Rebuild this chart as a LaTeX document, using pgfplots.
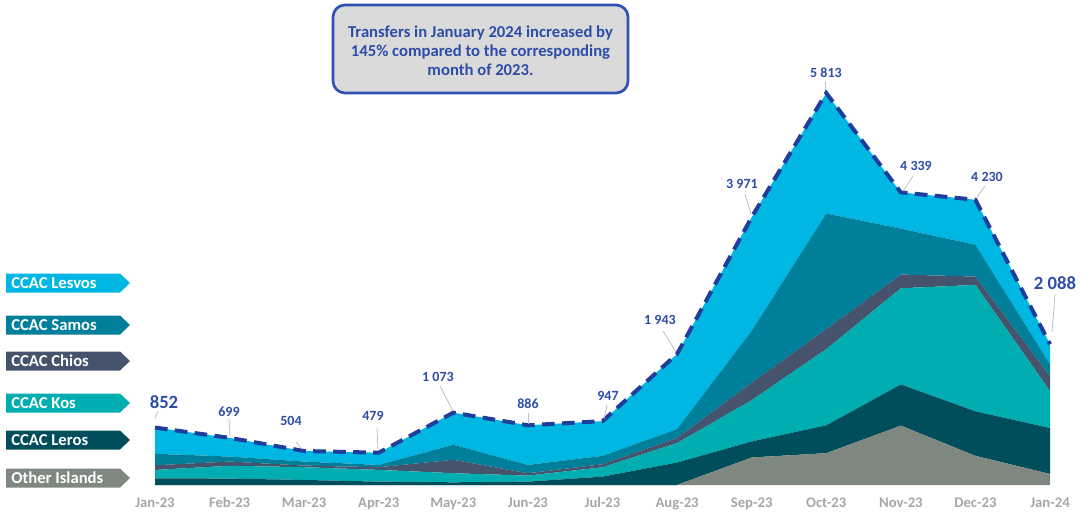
\documentclass[border=0pt]{standalone}
\usepackage{pgfplots}
\pgfplotsset{compat=1.18}
\usepackage{fontspec}
\setmainfont{Carlito}
\definecolor{lesvos}{HTML}{00B6E3}
\definecolor{samos}{HTML}{007F9A}
\definecolor{chios}{HTML}{46536D}
\definecolor{kos}{HTML}{00AEB2}
\definecolor{leros}{HTML}{004D5C}
\definecolor{other}{HTML}{7F8781}
\definecolor{lblue}{HTML}{2D4DA8}
\definecolor{dblue}{HTML}{1F3D9A}
\definecolor{tickgray}{HTML}{A6A6A6}
\definecolor{boxgray}{HTML}{DADADA}
\definecolor{boxblue}{HTML}{2E52B2}
\begin{document}
\begin{tikzpicture}[x=0.75pt,y=0.75pt]
\useasboundingbox (0,0) rectangle (1081,515);
\pgfplotsset{myaxis/.style={
  at={(116.25pt,22.5pt)}, anchor=south west,
  scale only axis, width=671.25pt, height=294pt,
  xmin=0, xmax=12, ymin=0, ymax=5813,
  clip=false,
  axis line style={draw=none},
  major tick length=0pt,
  ytick=\empty,
}}
\begin{axis}[myaxis,
  xtick={0,...,12},
  xticklabels={Jan-23,Feb-23,Mar-23,Apr-23,May-23,Jun-23,Jul-23,Aug-23,Sep-23,Oct-23,Nov-23,Dec-23,Jan-24},
  xticklabel style={anchor=base, yshift=-16.5pt, font=\fontsize{11}{12}\selectfont\bfseries, text=tickgray},
  stack plots=y,
]
% Other Islands
\addplot[fill=other, draw=none, mark=none] coordinates {(0,0) (1,0) (2,0) (3,0) (4,0) (5,0) (6,0) (7,0) (8,408) (9,472) (10,880) (11,432) (12,164)} \closedcycle;
% CCAC Leros
\addplot[fill=leros, draw=none, mark=none] coordinates {(0,100) (1,95) (2,75) (3,50) (4,40) (5,50) (6,124) (7,333) (8,238) (9,413) (10,611) (11,661) (12,681)} \closedcycle;
% CCAC Kos
\addplot[fill=kos, draw=none, mark=none] coordinates {(0,123) (1,190) (2,189) (3,174) (4,135) (5,89) (6,139) (7,288) (8,611) (9,1128) (10,1426) (11,1874) (12,547)} \closedcycle;
% CCAC Chios
\addplot[fill=chios, draw=none, mark=none] coordinates {(0,70) (1,63) (2,24) (3,40) (4,199) (5,35) (6,45) (7,75) (8,259) (9,298) (10,204) (11,124) (12,223)} \closedcycle;
% CCAC Samos
\addplot[fill=samos, draw=none, mark=none] coordinates {(0,170) (1,74) (2,60) (3,34) (4,223) (5,124) (6,124) (7,134) (8,770) (9,1715) (10,681) (11,472) (12,174)} \closedcycle;
% CCAC Lesvos
\addplot[fill=lesvos, draw=none, mark=none] coordinates {(0,389) (1,277) (2,156) (3,181) (4,476) (5,588) (6,515) (7,1113) (8,1685) (9,1787) (10,537) (11,667) (12,299)} \closedcycle;
\end{axis}
\begin{axis}[myaxis, xtick=\empty]
\addplot[draw=dblue, line width=3pt, dash pattern=on 9.5pt off 5.5pt, mark=none] coordinates {(0,852) (1,699) (2,504) (3,479) (4,1073) (5,886) (6,947) (7,1943) (8,3971) (9,5813) (10,4339) (11,4230) (12,2088)};
\end{axis}
% leader lines
\begin{scope}[draw=black!25, line width=0.6pt]
\draw (155,97)--(158,104);
\draw (229,96)--(230,79);
\draw (296,73)--(302,66);
\draw (377,87)--(378,64);
\draw (440,129)--(453,104);
\draw (528,102)--(528,91);
\draw (607,110)--(604,96);
\draw (663,184)--(676,163);
\draw (745,321)--(751,301);
\draw (825,433)--(825,425);
\draw (913,339)--(903,324);
\draw (985,329)--(977,318);
\draw (1055,221)--(1052,183);
\end{scope}
% value labels
\begin{scope}[every node/.style={text=lblue, font=\fontsize{10.5}{12}\selectfont\bfseries, inner sep=1pt}]
\node[font=\fontsize{14}{16}\selectfont\bfseries] at (164,113) {852};
\node at (229,103) {699};
\node at (291,94) {504};
\node at (373,99) {479};
\node at (438,138) {1 073};
\node at (528,111) {886};
\node at (608,119) {947};
\node at (660,195) {1 943};
\node at (742,331) {3 971};
\node at (826,442) {5 813};
\node at (916,349) {4 339};
\node at (987,338) {4 230};
\node[font=\fontsize{14}{16}\selectfont\bfseries] at (1055,232) {2 088};
\end{scope}
% legend tags
\foreach \y/\c/\t in {232/lesvos/CCAC Lesvos, 190/samos/CCAC Samos, 154/chios/CCAC Chios, 112/kos/CCAC Kos, 75/leros/CCAC Leros, 37/other/Other Islands}{
  \fill[\c] (6,\y+9.5) -- (120,\y+9.5) -- (130,\y) -- (120,\y-9.5) -- (6,\y-9.5) -- cycle;
  \node[anchor=west, text=white, font=\fontsize{12.5}{14}\selectfont\bfseries, inner sep=0pt] at (11,\y) {\t};
}
% text box
\draw[boxblue, fill=boxgray, line width=2pt, rounded corners=9pt] (333,510) rectangle (628,422);
\node[align=center, text=lblue, font=\fontsize{12.5}{14.3}\selectfont\bfseries] at (480.5,464) {Transfers in January 2024 increased by\\145\% compared to the corresponding\\month of 2023.};
\end{tikzpicture}
\end{document}
